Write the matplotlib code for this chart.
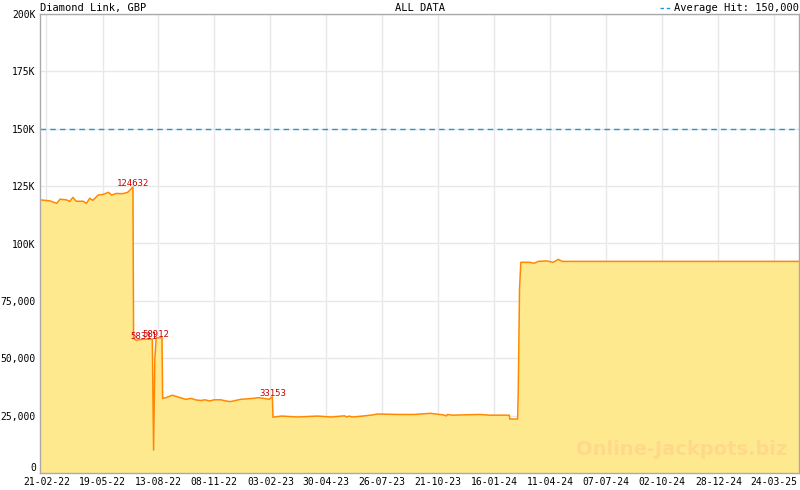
import matplotlib
matplotlib.use("Agg")
import matplotlib.pyplot as plt
import matplotlib.dates as mdates
import numpy as np
import pandas as pd

# ---- data ----
dates = [
    "2022-02-11", "2022-02-26", "2022-03-09", "2022-03-14", "2022-03-24", "2022-03-29",
    "2022-04-03", "2022-04-08", "2022-04-19", "2022-04-24", "2022-04-29", "2022-05-04",
    "2022-05-12", "2022-05-20", "2022-05-28", "2022-06-02", "2022-06-09", "2022-06-19",
    "2022-06-27", "2022-07-05",
    "2022-07-06", "2022-07-10", "2022-07-15", "2022-07-22", "2022-07-30", "2022-08-04",
    "2022-08-06", "2022-08-08", "2022-08-10", "2022-08-19",
    "2022-08-20", "2022-08-25", "2022-09-04", "2022-09-12", "2022-09-20", "2022-09-25",
    "2022-10-03", "2022-10-11", "2022-10-19", "2022-10-24", "2022-11-01", "2022-11-08",
    "2022-11-18", "2022-11-26", "2022-12-03", "2022-12-11", "2022-12-19", "2022-12-29",
    "2023-01-06", "2023-01-16", "2023-01-24", "2023-02-01", "2023-02-06",
    "2023-02-07", "2023-02-20", "2023-03-17", "2023-04-17", "2023-05-08", "2023-05-29",
    "2023-06-01", "2023-06-05", "2023-06-10", "2023-06-26", "2023-07-11", "2023-07-19",
    "2023-08-21", "2023-09-14", "2023-10-09", "2023-10-29", "2023-11-03", "2023-11-04",
    "2023-11-12", "2023-12-24", "2024-01-08", "2024-02-08", "2024-02-09", "2024-02-21",
    "2024-02-22", "2024-02-23", "2024-02-24", "2024-02-26", "2024-03-10", "2024-03-18",
    "2024-03-24", "2024-04-05", "2024-04-10", "2024-04-16", "2024-04-21", "2024-04-24",
    "2024-04-30", "2025-05-02",
]
values = [
    119000, 118600, 117500, 119300, 119000, 118300,
    120100, 118400, 118400, 117500, 119700, 118800,
    121100, 121400, 122300, 121100, 121800, 121700,
    122300, 124632,
    58700, 57800, 58100, 58311, 58300, 58300,
    10000, 50000, 58912, 58900,
    32500, 32800, 33900, 33200, 32500, 32100,
    32500, 31800, 31600, 31900, 31400, 31900,
    31900, 31400, 31100, 31600, 32100, 32300,
    32500, 32800, 32500, 32100, 33153,
    24300, 24800, 24400, 24800, 24400, 24900,
    24400, 24800, 24400, 24800, 25300, 25700,
    25500, 25500, 26000, 25300, 24900, 25500,
    25200, 25500, 25200, 25200, 23500, 23500,
    35000, 57600, 80200, 91800, 91800, 91400,
    92200, 92400, 92200, 91800, 92600, 93100,
    92200, 92200,
]
labelled_points = [("2022-07-05", 124632), ("2022-07-22", 58311),
                   ("2022-08-10", 58912), ("2023-02-06", 33153)]
average_hit = 150000
tick_dates = ["2022-02-21", "2022-05-19", "2022-08-13", "2022-11-08", "2023-02-03",
              "2023-04-30", "2023-07-26", "2023-10-21", "2024-01-16", "2024-04-11",
              "2024-07-07", "2024-10-02", "2024-12-28", "2025-03-24"]
y_ticks = [0, 25000, 50000, 75000, 100000, 125000, 150000, 175000, 200000]
y_labels = ["0", "25,000", "50,000", "75,000", "100K", "125K", "150K", "175K", "200K"]
x_range = ("2022-02-11", "2025-05-02")

# ---- style ----
FONT = "DejaVu Sans Mono"
LINE = "#ff8800"
FILL = "#ffe98f"
GRID = "#e8e8e8"
SPINE = "#aaaaaa"
BLUE = "#1a9ad6"

fig = plt.figure(figsize=(8, 4.9), dpi=100)
ax = fig.add_axes([40 / 800, 17 / 490, 759 / 800, 459 / 490])

x = pd.to_datetime(dates)
ax.fill_between(x, values, 0, color=FILL, linewidth=0, zorder=2)
ax.plot(x, values, color=LINE, linewidth=1.1, zorder=3)

ax.axhline(average_hit, color=BLUE, linewidth=1.0, linestyle=(0, (4, 3)), zorder=4)

for d, v in labelled_points:
    ax.annotate(f"{v}", xy=(pd.Timestamp(d), v), xytext=(0, -1), textcoords="offset points",
                ha="center", va="bottom", fontsize=6.5, color="#cc0000", family=FONT, zorder=5)

xmin = mdates.date2num(pd.Timestamp(x_range[0]))
xmax = mdates.date2num(pd.Timestamp(x_range[1]))

tpos = mdates.date2num(pd.to_datetime(tick_dates))
ax.set_xticks(tpos)
ax.set_xticklabels([pd.Timestamp(d).strftime("%d-%m-%y") for d in tick_dates],
                   family=FONT, fontsize=7)
step = np.diff(tpos).mean()
minor = np.arange(tpos[0] - step, tpos[-1] + 2 * step, step / 6)
minor = minor[(minor > xmin) & (minor < xmax)]
ax.set_xticks(minor, minor=True)
ax.set_yticks(y_ticks)
ax.set_yticklabels(y_labels, family=FONT, fontsize=7)
ax.get_yticklabels()[0].set_verticalalignment("bottom")
ax.set_xlim(xmin, xmax)
ax.set_ylim(0, 200000)

ax.tick_params(axis="x", which="major", direction="in", length=5, color=SPINE, pad=3)
ax.tick_params(axis="x", which="minor", direction="in", length=3, color=SPINE)
ax.tick_params(axis="y", which="major", length=0, pad=3)

ax.grid(True, which="major", color=GRID, linewidth=1.0, zorder=0)
ax.set_axisbelow(True)
for s in ax.spines.values():
    s.set_color(SPINE)
    s.set_linewidth(1.0)
    s.set_zorder(6)

fig.text(40 / 800, 1 - 8 / 490, "Diamond Link, GBP", family=FONT, fontsize=7.5,
         ha="left", va="center")
fig.text(420 / 800, 1 - 8 / 490, "ALL DATA", family=FONT, fontsize=7.5,
         ha="center", va="center")
fig.text(799 / 800, 1 - 8 / 490, "Average Hit: 150,000", family=FONT, fontsize=7.5,
         ha="right", va="center")
fig.lines.append(plt.Line2D([660 / 800, 672 / 800], [1 - 8 / 490, 1 - 8 / 490],
                            transform=fig.transFigure, color=BLUE,
                            linewidth=1.0, linestyle=(0, (2.5, 2))))

ax.text(0.985, 0.03, "Online-Jackpots.biz", transform=ax.transAxes, ha="right", va="bottom",
        fontsize=14, fontweight="bold", color="#ffd98a", family="DejaVu Sans", zorder=4)

fig.savefig("out.png", dpi=100)
